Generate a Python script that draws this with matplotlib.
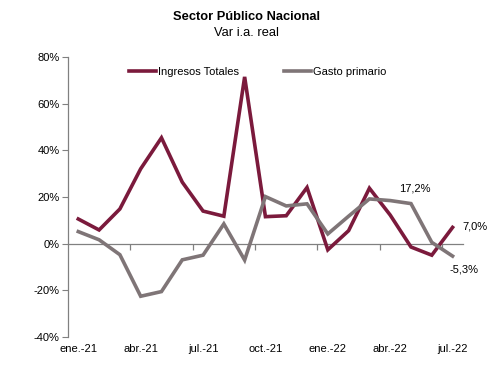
import matplotlib.pyplot as plt
import numpy as np

plt.rcParams['font.family'] = ['Liberation Sans', 'DejaVu Sans']

MONTHS = ['ene.-21', 'feb.-21', 'mar.-21', 'abr.-21', 'may.-21', 'jun.-21', 'jul.-21', 'ago.-21',
          'sep.-21', 'oct.-21', 'nov.-21', 'dic.-21', 'ene.-22', 'feb.-22', 'mar.-22', 'abr.-22',
          'may.-22', 'jun.-22', 'jul.-22']
INGRESOS = [10.6, 5.9, 14.9, 32.1, 45.4, 26.4, 14.0, 11.8, 71.5, 11.6, 12.0, 24.1,
            -2.6, 5.6, 23.8, 12.3, -1.4, -4.9, 7.0]
GASTO = [5.2, 1.7, -4.7, -22.5, -20.5, -6.9, -4.9, 8.5, -7.0, 20.2, 16.2, 17.1,
         4.2, 11.8, 19.2, 18.5, 17.2, 0.6, -5.3]

MAROON = '#7b1a3c'
GREY = '#7f7577'
FS = 8

fig = plt.figure(figsize=(4.92, 3.68), dpi=100)
ax = fig.add_axes([0.138, 0.084, 0.803, 0.761])

x = np.arange(len(MONTHS))
ax.plot(x, INGRESOS, color=MAROON, lw=2.6, label='Ingresos Totales', solid_joinstyle='miter')
ax.plot(x, GASTO, color=GREY, lw=2.6, label='Gasto primario', solid_joinstyle='miter')

ax.set_xlim(-0.5, len(MONTHS) - 0.5)
ax.set_ylim(-40, 80)
ax.set_yticks(np.arange(-40, 81, 20))
ax.set_yticklabels([f'{v}%' for v in range(-40, 81, 20)])

# category labels every 3 months, along the bottom
ax.set_xticks(x[::3])
ax.set_xticklabels(MONTHS[::3])
ax.tick_params(axis='x', length=0, pad=5, labelsize=FS)
ax.tick_params(axis='y', length=4, color='#808080', labelsize=FS, pad=2)

for s in ['top', 'right', 'bottom']:
    ax.spines[s].set_visible(False)
ax.spines['left'].set_color('#808080')
ax.spines['left'].set_linewidth(0.9)

# zero line with tick marks between quarters
zero = ax.secondary_xaxis(1 / 3)
zero.set_xticks(np.arange(2.5, len(MONTHS), 3))
zero.set_xticklabels([])
zero.tick_params(length=4, color='#808080', width=0.9)
zero.spines['bottom'].set_color('#808080')
zero.spines['bottom'].set_linewidth(0.9)

# value labels
ax.annotate('17,2%', (16, GASTO[16]), xytext=(3, 11), textcoords='offset points',
            ha='center', va='center', fontsize=FS)
ax.annotate('7,0%', (18, INGRESOS[18]), xytext=(7, 1), textcoords='offset points',
            ha='left', va='center', fontsize=FS)
ax.annotate('-5,3%', (18, GASTO[18]), xytext=(8, -10), textcoords='offset points',
            ha='center', va='center', fontsize=FS)

ax.legend(loc='upper center', bbox_to_anchor=(0.48, 1.0), ncol=2, frameon=False,
          fontsize=FS, handlelength=2.5, handletextpad=0.15, columnspacing=4.0)

fig.text(0.501, 0.953, 'Sector Público Nacional', ha='center', va='center',
         fontsize=9.3, fontweight='bold')
fig.text(0.501, 0.91, 'Var i.a. real', ha='center', va='center', fontsize=9.3)

fig.savefig('out.png', dpi=100)
